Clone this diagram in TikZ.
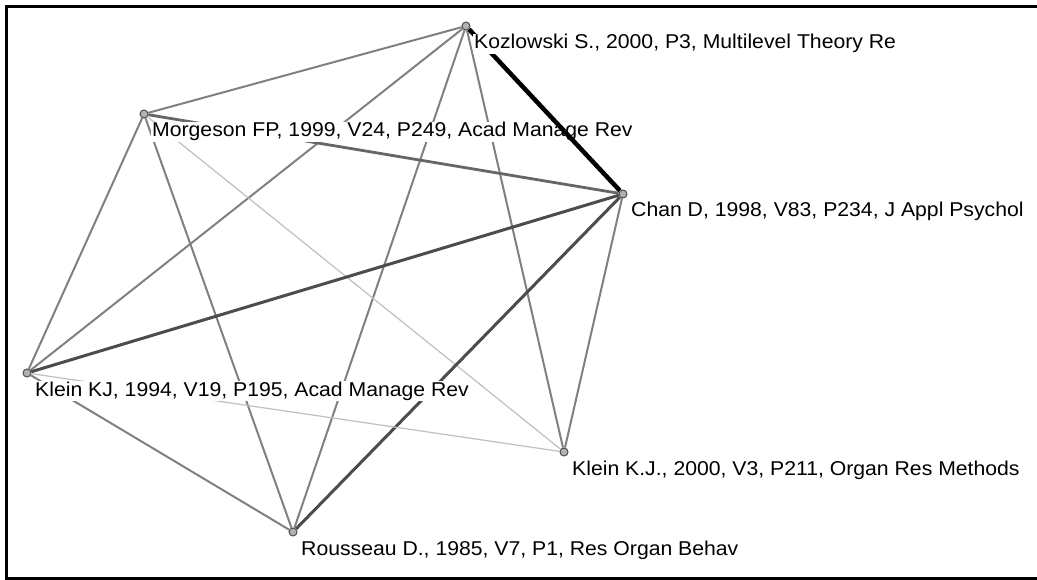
\documentclass[tikz,border=0pt]{standalone}
\usepackage{fontspec}
\setmainfont[FakeStretch=1.06]{Liberation Sans}
\begin{document}
\begin{tikzpicture}[x=1pt, y=-1pt]
        \tikzstyle{paper}=[draw=black!70, fill=black!30, line width=1pt, shape=circle, inner sep=0pt, minimum size=8pt]
        \tikzstyle{ref}=[anchor=base west, fill=white, inner sep=1pt, font=\fontsize{20}{22}\selectfont]
        \tikzstyle{tie}=[draw=black!50, line width=2pt]
        \tikzstyle{weak}=[draw=black!25, line width=1.2pt]
        \tikzstyle{strong}=[draw=black!70, line width=3pt]

        \useasboundingbox (0,0) rectangle (1037,580);
        \draw[line width=3pt] (1045,6.5) -- (6.5,6.5) -- (6.5,578.5) -- (1045,578.5);

        \node[paper](koz) at (466,26){};
        \node[paper](morg) at (144,114){};
        \node[paper](chan) at (623,194){};
        \node[paper](klein94) at (27,373){};
        \node[paper](klein00) at (564,452){};
        \node[paper](rous) at (293,532){};

        \draw[tie] (koz) -- (morg);
        \draw[tie] (koz) -- (klein94);
        \draw[tie] (koz) -- (rous);
        \draw[tie] (koz) -- (klein00);
        \draw[draw=black!60, line width=2.8pt] (morg) -- (chan);
        \draw[tie] (morg) -- (klein94);
        \draw[tie] (morg) -- (rous);
        \draw[weak] (morg) -- (klein00);
        \draw[strong] (chan) -- (klein94);
        \draw[strong] (chan) -- (rous);
        \draw[tie] (chan) -- (klein00);
        \draw[tie] (klein94) -- (rous);
        \draw[weak] (klein94) -- (klein00);

        \node[ref](morg-t) at ([xshift=7pt,yshift=-23pt]morg){Morgeson FP, 1999, V24, P249, Acad Manage Rev};
        \draw[draw=black, line width=4.5pt] (koz) -- (chan);
        \node[ref](koz-t) at ([xshift=7pt,yshift=-23pt]koz){Kozlowski S., 2000, P3, Multilevel Theory Re};
        \node[ref](chan-t) at ([xshift=7pt,yshift=-23pt]chan){Chan D, 1998, V83, P234, J Appl Psychol};
        \node[ref](klein94-t) at ([xshift=7pt,yshift=-23pt]klein94){Klein KJ, 1994, V19, P195, Acad Manage Rev};
        \node[ref](klein00-t) at ([xshift=7pt,yshift=-23pt]klein00){Klein K.J., 2000, V3, P211, Organ Res Methods};
        \node[ref](rous-t) at ([xshift=7pt,yshift=-23pt]rous){Rousseau D., 1985, V7, P1, Res Organ Behav};

        \end{tikzpicture}
\end{document}
